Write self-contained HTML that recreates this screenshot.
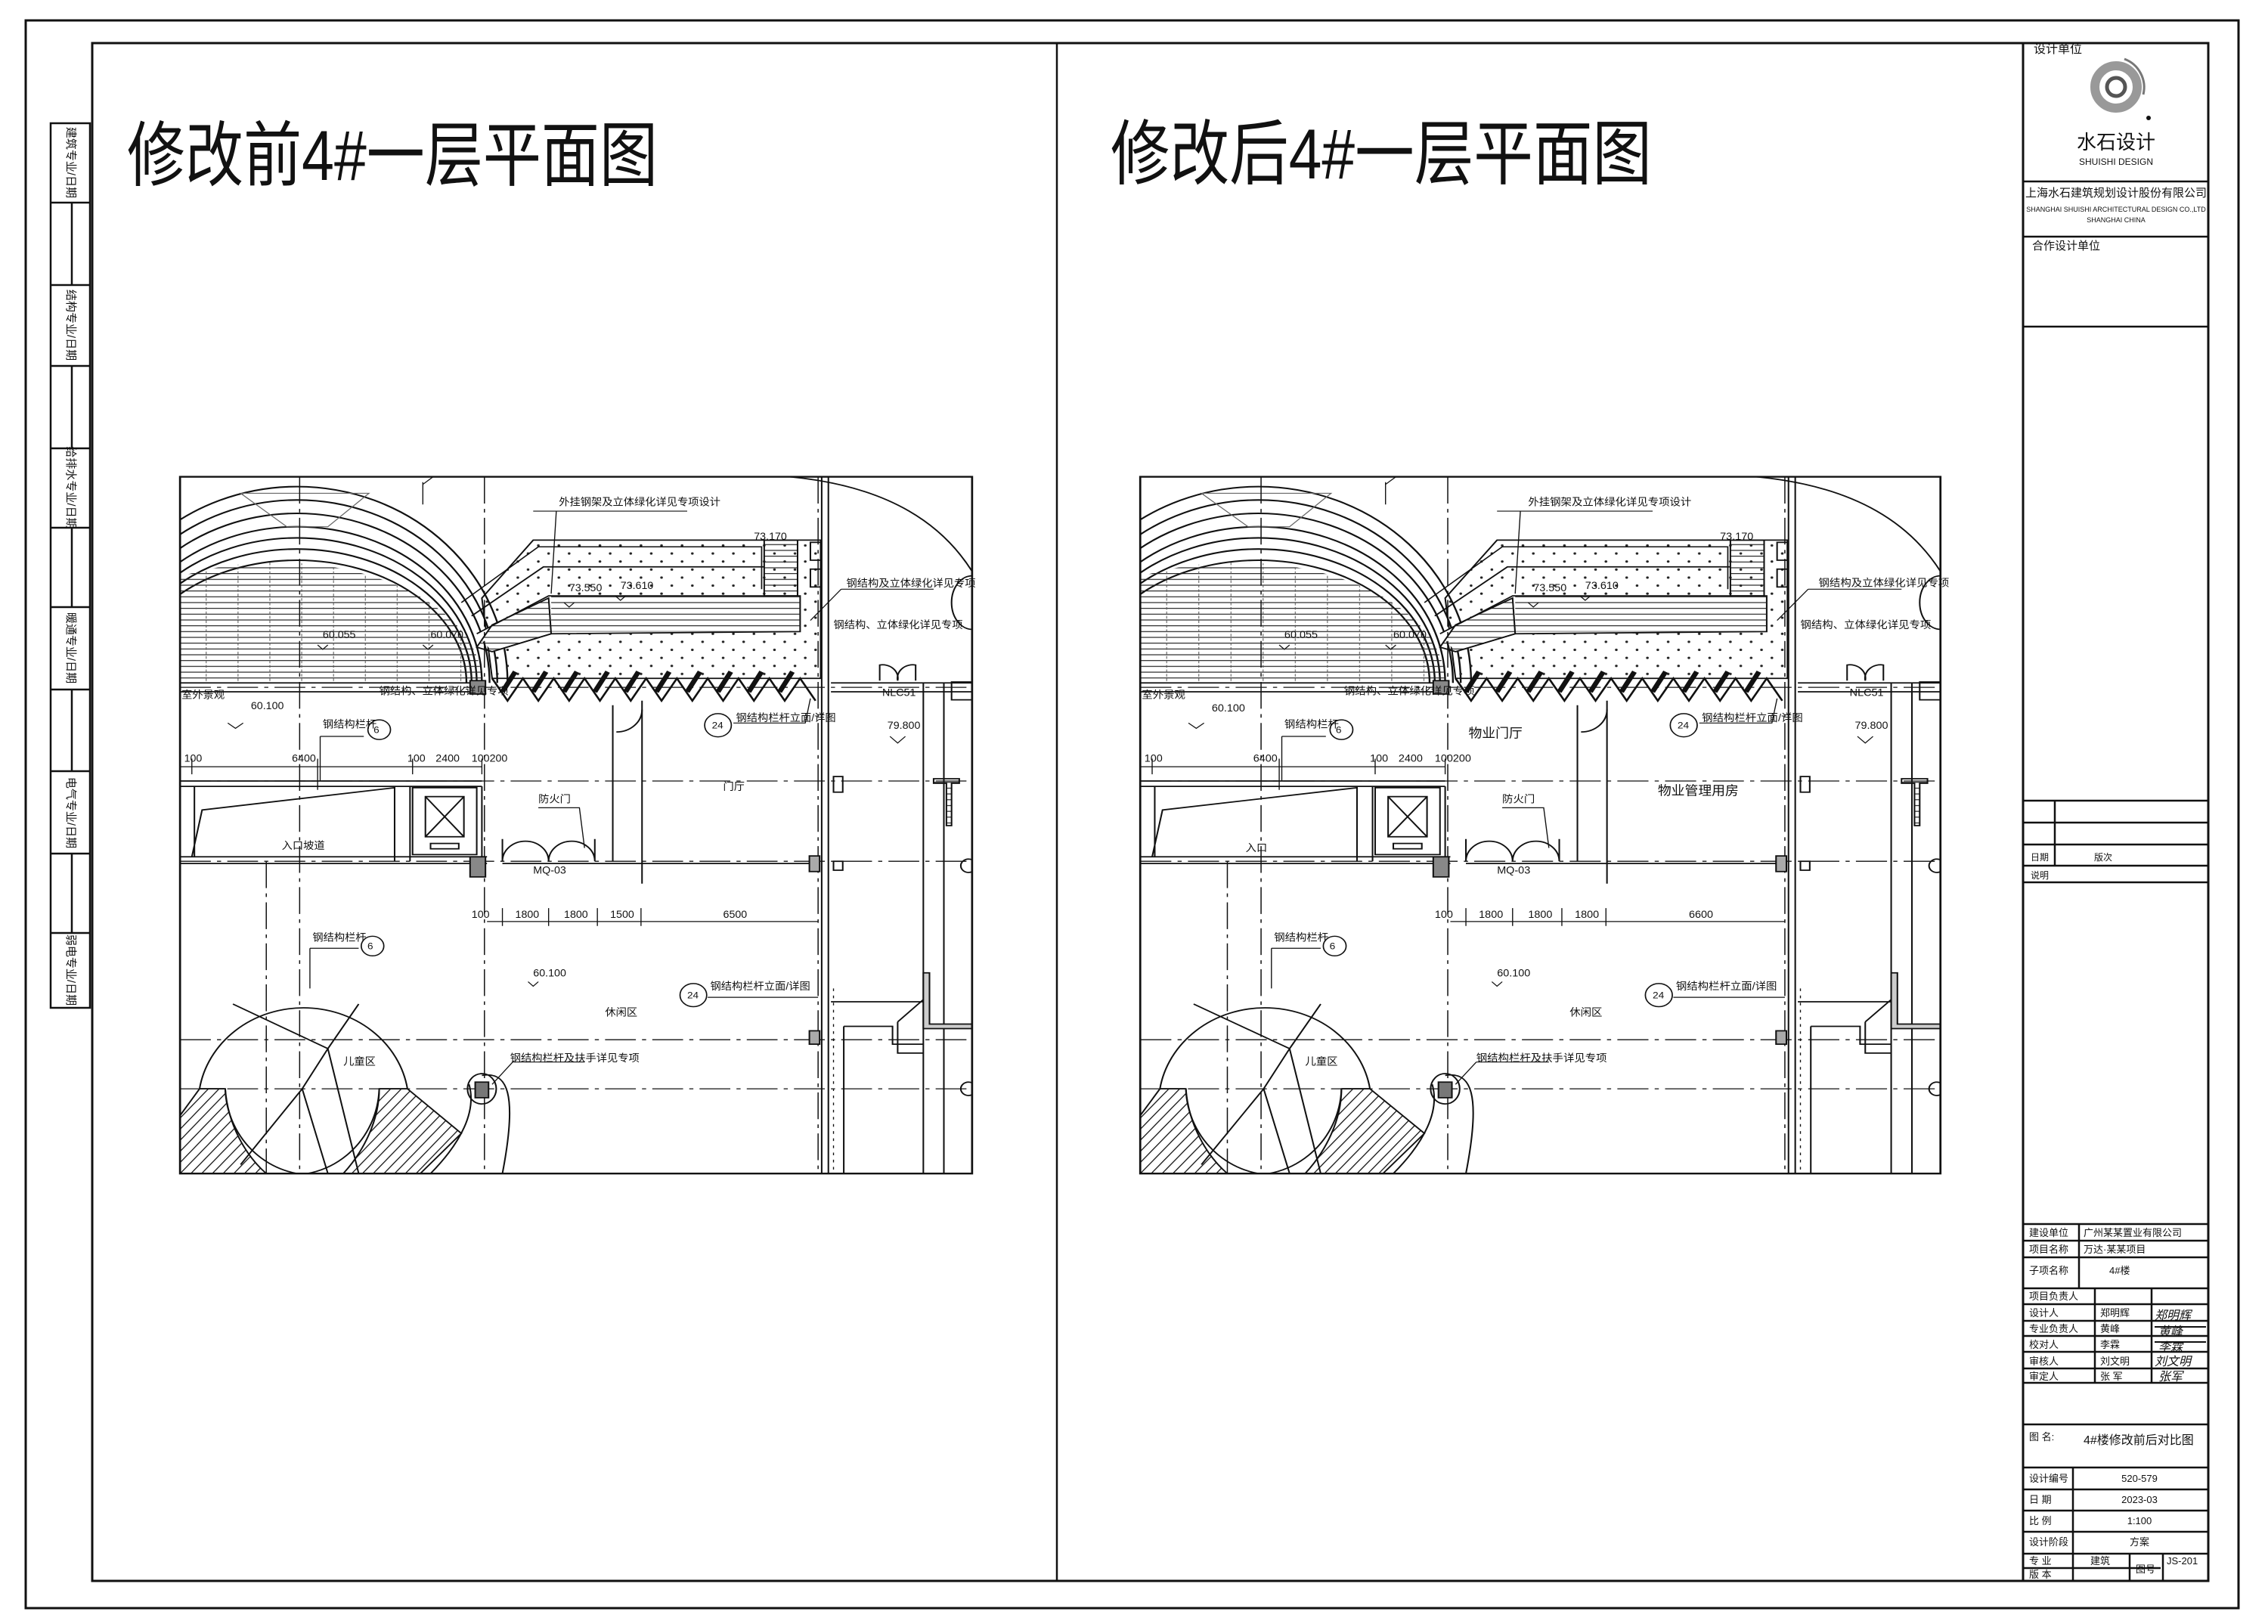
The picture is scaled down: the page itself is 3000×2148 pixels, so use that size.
<!DOCTYPE html>
<html><head><meta charset="utf-8"><style>
html,body{margin:0;padding:0;background:#fff}
svg{display:block}
text{font-family:"Liberation Sans","Noto Sans CJK SC",sans-serif;fill:#111}
</style></head><body>
<svg width="3000" height="2148" viewBox="0 0 3000 2148" xmlns="http://www.w3.org/2000/svg">
<defs>
<pattern id="dots" width="40" height="36" patternUnits="userSpaceOnUse"><circle cx="10" cy="10" r="2.6" fill="#222"/><circle cx="30" cy="28" r="2.6" fill="#222"/></pattern>
<pattern id="hatch" width="16" height="16" patternUnits="userSpaceOnUse" patternTransform="rotate(40)"><line x1="0" y1="0" x2="0" y2="16" stroke="#111" stroke-width="4"/></pattern>
<pattern id="hl" width="20" height="13" patternUnits="userSpaceOnUse"><line x1="0" y1="1" x2="20" y2="1" stroke="#222" stroke-width="2"/></pattern>
<pattern id="vl" width="62" height="20" patternUnits="userSpaceOnUse"><line x1="1" y1="0" x2="1" y2="20" stroke="#555" stroke-width="1.5" stroke-dasharray="6 4"/></pattern>
<clipPath id="box"><rect x="12" y="18" width="1543" height="1562"/></clipPath>
<clipPath id="arcin"><path d="M-200 480 A 400 270 0 0 1 600 480 Z"/></clipPath>
<g id="geo" fill="none" stroke="#111" stroke-width="3">
 <g clip-path="url(#box)">
  <g stroke-width="3.5">
   <path d="M-170 480 A 410 440 0 0 1 650 480"/>
   <path d="M-150 480 A 390 410 0 0 1 630 480"/>
   <path d="M-135 480 A 375 380 0 0 1 615 480"/>
   <path d="M-120 480 A 360 350 0 0 1 600 480"/>
   <path d="M-110 480 A 350 325 0 0 1 590 480"/>
   <path d="M-100 480 A 340 300 0 0 1 580 480"/>
   <path d="M-90 480 A 330 275 0 0 1 570 480"/>
  </g>
  <rect x="12" y="200" width="590" height="280" fill="url(#hl)" stroke="none" clip-path="url(#arcin)"/>
  <rect x="12" y="200" width="590" height="280" fill="url(#vl)" stroke="none" clip-path="url(#arcin)"/>
  <path d="M130 55 L380 55 L300 130 L220 130 Z" stroke-width="2" stroke="#666"/>
  <path d="M600 290 L700 160 L1260 160 L1260 470 L620 470 Z" fill="url(#dots)" stroke-width="3"/>
  <path d="M560 300 L710 175 L1145 175 L1145 270" stroke-width="2.5"/>
  <path d="M580 330 L720 220 L1150 220"/>
  <path d="M590 370 L730 285 L1220 285 L1220 365 L735 370 L620 410" fill="#fff" stroke-width="3"/>
  <rect x="735" y="285" width="485" height="80" fill="url(#hl)" stroke="none"/>
  <path d="M590 400 L620 350 L730 290 L735 370 L620 410 Z" fill="url(#hl)"/>
  <rect x="1150" y="160" width="65" height="125" fill="url(#hl)"/>
  <rect x="1240" y="165" width="20" height="40"/><rect x="1240" y="225" width="20" height="40"/>
  <path d="M620 470 L650 520 L680 470 L710 520 L740 470 L770 520 L800 470 L830 520 L860 470 L890 520 L920 470 L950 520 L980 470 L1010 520 L1040 470 L1070 520 L1100 470 L1130 520 L1160 470 L1190 520 L1220 470 L1250 520" stroke-width="4"/>
  <path d="M640 500 L665 455 M700 500 L725 455 M760 500 L785 455 M820 500 L845 455 M880 500 L905 455 M940 500 L965 455 M1000 500 L1025 455 M1060 500 L1085 455 M1120 500 L1145 455 M1180 500 L1205 455" stroke-width="10"/>
  <path d="M12 480 H600 M12 500 H600 M1280 480 H1555 M1280 500 H1555"/>
  <path d="M12 700 H600 M12 712 H600 M12 870 H610 M12 885 H610 M640 885 H1240"/>
  <g stroke-dasharray="60 12 8 12" stroke-width="2.2">
   <path d="M12 490 H1555 M12 700 H1555 M12 880 H1555 M12 1280 H1555 M12 1390 H1555"/>
   <path d="M605 18 V1580 M1255 18 V1580 M245 18 V1580 M180 880 V1580"/>
  </g>
  <path d="M1262 18 V1580 M1275 18 V1580 M1460 480 V1580 M1500 480 V1580"/>
  <path d="M1200 18 C1400 40 1500 130 1555 230"/>
  <path d="M1555 240 A 40 60 0 0 0 1555 360"/>
  <path d="M855 530 V880 M912 520 V930" stroke-width="3"/>
  <path d="M862 590 A 50 50 0 0 0 912 540"/>
  <rect x="465" y="715" width="125" height="150"/><rect x="490" y="735" width="75" height="90"/>
  <path d="M490 735 L565 825 M565 735 L490 825"/><rect x="500" y="840" width="55" height="12"/>
  <path d="M40 712 V870 M35 870 L55 765 L430 715 M430 712 V880 M460 712 V880 M600 712 V880"/>
  <path d="M640 880 A 45 45 0 0 1 730 880 M730 880 A45 45 0 0 1 820 880 M640 830 V880 M820 830 V880"/>
  <path d="M12 668 H600 M610 1015 H1255 M35 650 V685 M280 650 V720 M465 650 V685 M600 650 V685 M640 985 V1025 M730 985 V1025 M825 985 V1025 M910 985 V1025" stroke-width="2"/>
  <path d="M285 600 H370 M285 600 V700 M265 1075 H360 M265 1075 V1165 M1040 1185 H1255 M1090 570 H1230 L1240 515" stroke-width="2"/>
  <path d="M700 95 H1000 M745 95 L735 280 M1300 270 H1480 M1300 270 L1240 340 M660 1330 H800 M660 1330 L620 1380 M710 760 H790 L800 850" stroke-width="2"/>
  <circle cx="400" cy="585" r="22" stroke-width="2.5"/><circle cx="387" cy="1070" r="22" stroke-width="2.5"/>
  <circle cx="1060" cy="575" r="26" stroke-width="2.5"/><circle cx="1012" cy="1180" r="26" stroke-width="2.5"/>
  <rect x="577" y="475" width="30" height="30" fill="#888"/><rect x="577" y="870" width="30" height="45" fill="#888"/>
  <rect x="1238" y="868" width="20" height="35" fill="#aaa"/><rect x="1238" y="1260" width="20" height="30" fill="#aaa"/>
  <rect x="1285" y="690" width="18" height="35"/><rect x="1285" y="880" width="18" height="20"/>
  <path d="M1480 695 H1530 V705 H1515 V800 H1505 V705 H1480 Z" fill="url(#hl)"/>
  <path d="M1460 1130 H1472 V1245 H1555 V1255 H1460 Z" fill="#ccc"/>
  <path d="M1280 1195 H1460 M1305 1250 H1400 V1290 H1460 M1305 1250 V1580 M1410 1240 L1460 1190 M1410 1240 V1310 H1460"/>
  <path d="M1285 1165 V1580" stroke-dasharray="6 10" stroke-width="2"/>
  <path d="M1375 475 V440 A30 30 0 0 1 1410 475 A30 30 0 0 1 1445 440 V475"/>
  <rect x="1515" y="478" width="40" height="40"/>
  <circle cx="1548" cy="890" r="15"/><circle cx="1548" cy="1390" r="15"/>
  <path d="M50 1390 A 205 215 0 0 1 455 1390"/>
  <path d="M50 1390 H100 M400 1390 H455"/>
  <path d="M100 1390 A 170 200 0 0 0 300 1580 M400 1390 A 170 200 0 0 1 200 1580"/>
  <path d="M115 1200 L300 1300 L250 1390 M360 1200 L300 1300 M300 1300 L360 1580 M250 1390 L130 1560 M250 1390 L300 1580"/>
  <path d="M12 1450 L50 1390 H100 C105 1470 140 1540 180 1580 H12 Z" fill="url(#hatch)"/>
  <path d="M400 1390 H455 L560 1490 L480 1580 H330 C370 1530 400 1460 400 1390 Z" fill="url(#hatch)"/>
  <path d="M600 1360 C650 1350 670 1400 640 1580 M575 1380 C590 1440 560 1510 500 1580" />
  <ellipse cx="600" cy="1390" rx="28" ry="34"/><rect x="587" y="1375" width="26" height="35" fill="#777"/>
  <path d="M485 35 L505 18 H600 M485 80 V30" stroke-width="2"/>
  <path d="M1395 600 L1410 615 L1425 600" stroke-width="2"/>
  <path d="M105 570 L120 582 L135 570 M690 1150 L700 1160 L710 1150 M280 395 L290 405 L300 395 M485 395 L495 405 L505 395 M760 300 L770 310 L780 300 M860 285 L870 295 L880 285" stroke-width="2"/>
 </g>
 <rect x="12" y="18" width="1543" height="1562" stroke-width="4"/>
</g>
</defs>

<rect x="34" y="27" width="2927" height="2100" fill="none" stroke="#111" stroke-width="3"/>
<rect x="122" y="57" width="2799" height="2034" fill="none" stroke="#111" stroke-width="3"/>
<line x1="1398" y1="57" x2="1398" y2="2091" stroke="#111" stroke-width="2.5"/>
<line x1="2676" y1="57" x2="2676" y2="2091" stroke="#111" stroke-width="3"/>

<g fill="none" stroke="#111" stroke-width="2.5">
<rect x="67" y="163" width="52" height="1170"/>
<path d="M95 268 V377 M95 484 V593 M95 698 V803 M95 912 V1020 M95 1129 V1234"/>
<path d="M67 268 H119 M67 377 H119 M67 484 H119 M67 593 H119 M67 698 H119 M67 803 H119 M67 912 H119 M67 1020 H119 M67 1129 H119 M67 1234 H119"/>
</g>
<g font-size="15">
<text transform="translate(89,215) rotate(90)" text-anchor="middle">建筑专业/日期</text>
<text transform="translate(89,430) rotate(90)" text-anchor="middle">结构专业/日期</text>
<text transform="translate(89,645) rotate(90)" text-anchor="middle">给排水专业/日期</text>
<text transform="translate(89,857) rotate(90)" text-anchor="middle">暖通专业/日期</text>
<text transform="translate(89,1075) rotate(90)" text-anchor="middle">电气专业/日期</text>
<text transform="translate(89,1283) rotate(90)" text-anchor="middle">弱电专业/日期</text>
</g>

<text x="168" y="238" font-size="94" textLength="702" lengthAdjust="spacingAndGlyphs">修改前4#一层平面图</text>
<text x="1469" y="236" font-size="94" textLength="716" lengthAdjust="spacingAndGlyphs">修改后4#一层平面图</text>

<g transform="translate(230,620) scale(0.679,0.59)"><use href="#geo"/>
<g font-size="21" transform="scale(1,1.1)">
<text x="750" y="75">外挂钢架及立体绿化详见专项设计</text>
<text x="1310" y="240">钢结构及立体绿化详见专项</text>
<text x="1285" y="325">钢结构、立体绿化详见专项</text>
<text x="400" y="460">钢结构、立体绿化详见专项</text>
<text x="15" y="468">室外景观</text>
<text x="150" y="490">60.100</text>
<text x="290" y="528">钢结构栏杆</text>
<text x="1095" y="515">钢结构栏杆立面/详图</text>
<text x="1380" y="463">NLC51</text>
<text x="1390" y="530">79.800</text>
<text x="20" y="597">100</text><text x="230" y="597">6400</text><text x="455" y="597">100</text><text x="510" y="597">2400</text><text x="580" y="597">100200</text>
<text x="1070" y="655">门厅</text>
<text x="710" y="680">防火门</text>
<text x="210" y="775">入口坡道</text>
<text x="700" y="825">MQ-03</text>
<text x="580" y="915">100</text><text x="665" y="915">1800</text><text x="760" y="915">1800</text><text x="850" y="915">1500</text><text x="1070" y="915">6500</text>
<text x="270" y="962">钢结构栏杆</text>
<text x="700" y="1035">60.100</text>
<text x="1045" y="1062">钢结构栏杆立面/详图</text>
<text x="840" y="1115">休闲区</text>
<text x="330" y="1215">儿童区</text>
<text x="655" y="1208">钢结构栏杆及扶手详见专项</text>
<text x="290" y="345">60.055</text><text x="500" y="345">60.070</text>
<text x="770" y="250">73.550</text><text x="870" y="245">73.610</text><text x="1130" y="145">73.170</text>
</g>
<g font-size="20"><text x="389" y="592">6</text><text x="377" y="1077">6</text><text x="1048" y="582">24</text><text x="1000" y="1187">24</text></g>
</g>

<g transform="translate(1500,620) scale(0.686,0.59)"><use href="#geo"/>
<g font-size="21" transform="scale(1,1.1)">
<text x="760" y="75">外挂钢架及立体绿化详见专项设计</text>
<text x="1320" y="240">钢结构及立体绿化详见专项</text>
<text x="1285" y="325">钢结构、立体绿化详见专项</text>
<text x="405" y="460">钢结构、立体绿化详见专项</text>
<text x="15" y="468">室外景观</text>
<text x="150" y="495">60.100</text>
<text x="290" y="528">钢结构栏杆</text>
<text x="1095" y="515">钢结构栏杆立面/详图</text>
<text x="1380" y="463">NLC51</text>
<text x="1390" y="530">79.800</text>
<text x="645" y="548" font-size="26">物业门厅</text>
<text x="1010" y="665" font-size="26">物业管理用房</text>
<text x="20" y="597">100</text><text x="230" y="597">6400</text><text x="455" y="597">100</text><text x="510" y="597">2400</text><text x="580" y="597">100200</text>
<text x="710" y="680">防火门</text>
<text x="215" y="780">入口</text>
<text x="700" y="825">MQ-03</text>
<text x="580" y="915">100</text><text x="665" y="915">1800</text><text x="760" y="915">1800</text><text x="850" y="915">1800</text><text x="1070" y="915">6600</text>
<text x="270" y="962">钢结构栏杆</text>
<text x="700" y="1035">60.100</text>
<text x="1045" y="1062">钢结构栏杆立面/详图</text>
<text x="840" y="1115">休闲区</text>
<text x="330" y="1215">儿童区</text>
<text x="660" y="1208">钢结构栏杆及扶手详见专项</text>
<text x="290" y="345">60.055</text><text x="500" y="345">60.070</text>
<text x="770" y="250">73.550</text><text x="870" y="245">73.610</text><text x="1130" y="145">73.170</text>
</g>
<g font-size="20"><text x="389" y="592">6</text><text x="377" y="1077">6</text><text x="1048" y="582">24</text><text x="1000" y="1187">24</text></g>
</g>

<g fill="none" stroke="#111" stroke-width="2.5">
<path d="M2676 240 H2921 M2676 313 H2921 M2676 432 H2921"/>
<path d="M2676 1059 H2921 M2676 1088 H2921 M2676 1117 H2921 M2676 1145 H2921 M2676 1167 H2921 M2718 1059 V1145"/>
<path d="M2676 1619 H2921 M2676 1641 H2921 M2676 1663 H2921 M2676 1704 H2921 M2676 1725 H2921 M2676 1747 H2921 M2676 1767 H2921 M2676 1788 H2921 M2676 1810 H2921 M2676 1829 H2921 M2676 1884 H2921 M2676 1941 H2921 M2676 1970 H2921 M2676 1998 H2921 M2676 2026 H2921 M2676 2055 H2921 M2676 2074 H2858"/>
<path d="M2750 1619 V1704 M2771 1704 V1829 M2846 1704 V1829 M2742 1941 V2091 M2817 2055 V2091 M2861 2055 V2091"/>
</g>
<text x="2690" y="70" font-size="16">设计单位</text>
<circle cx="2799" cy="115" r="28" fill="none" stroke="#999" stroke-width="12"/>
<circle cx="2799" cy="115" r="12" fill="none" stroke="#555" stroke-width="5"/>
<path d="M2810 78 A40 40 0 0 1 2835 125" fill="none" stroke="#777" stroke-width="3"/>
<circle cx="2842" cy="156" r="3" fill="#111"/>
<text x="2799" y="197" font-size="26" text-anchor="middle">水石设计</text>
<text x="2799" y="218" font-size="12" text-anchor="middle">SHUISHI DESIGN</text>
<text x="2799" y="260" font-size="15" text-anchor="middle">上海水石建筑规划设计股份有限公司</text>
<text x="2799" y="280" font-size="9" text-anchor="middle">SHANGHAI SHUISHI ARCHITECTURAL DESIGN CO.,LTD</text>
<text x="2799" y="294" font-size="9" text-anchor="middle">SHANGHAI CHINA</text>
<text x="2688" y="330" font-size="15">合作设计单位</text>
<text x="2686" y="1138" font-size="12">日期</text><text x="2770" y="1138" font-size="12">版次</text>
<text x="2686" y="1162" font-size="12">说明</text>
<g font-size="13">
<text x="2684" y="1635">建设单位</text><text x="2756" y="1635">广州某某置业有限公司</text>
<text x="2684" y="1657">项目名称</text><text x="2756" y="1657">万达·某某项目</text>
<text x="2684" y="1685">子项名称</text><text x="2790" y="1685">4#楼</text>
<text x="2684" y="1719">项目负责人</text>
<text x="2684" y="1741">设计人</text><text x="2778" y="1741">郑明辉</text>
<text x="2684" y="1762">专业负责人</text><text x="2778" y="1762">黄峰</text>
<text x="2684" y="1783">校对人</text><text x="2778" y="1783">李霖</text>
<text x="2684" y="1805">审核人</text><text x="2778" y="1805">刘文明</text>
<text x="2684" y="1825">审定人</text><text x="2778" y="1825">张 军</text>
<text x="2684" y="1905">图 名:</text><text x="2756" y="1910" font-size="16">4#楼修改前后对比图</text>
<text x="2684" y="1960">设计编号</text><text x="2830" y="1960" text-anchor="middle">520-579</text>
<text x="2684" y="1988">日 期</text><text x="2830" y="1988" text-anchor="middle">2023-03</text>
<text x="2684" y="2016">比 例</text><text x="2830" y="2016" text-anchor="middle">1:100</text>
<text x="2684" y="2044">设计阶段</text><text x="2830" y="2044" text-anchor="middle">方案</text>
<text x="2684" y="2069">专 业</text><text x="2765" y="2069">建筑</text><text x="2825" y="2080">图号</text><text x="2866" y="2069">JS-201</text>
<text x="2684" y="2087">版 本</text>
</g>
<g font-family="Liberation Serif" font-size="16" font-style="italic">
<text x="2850" y="1745">郑明辉</text><text x="2855" y="1766">黄峰</text><text x="2855" y="1787">李霖</text><text x="2850" y="1806">刘文明</text><text x="2855" y="1826">张军</text>
</g>
<path d="M2850 1755 H2918 M2850 1775 H2918" stroke="#111" stroke-width="2"/>
</svg>
</body></html>
